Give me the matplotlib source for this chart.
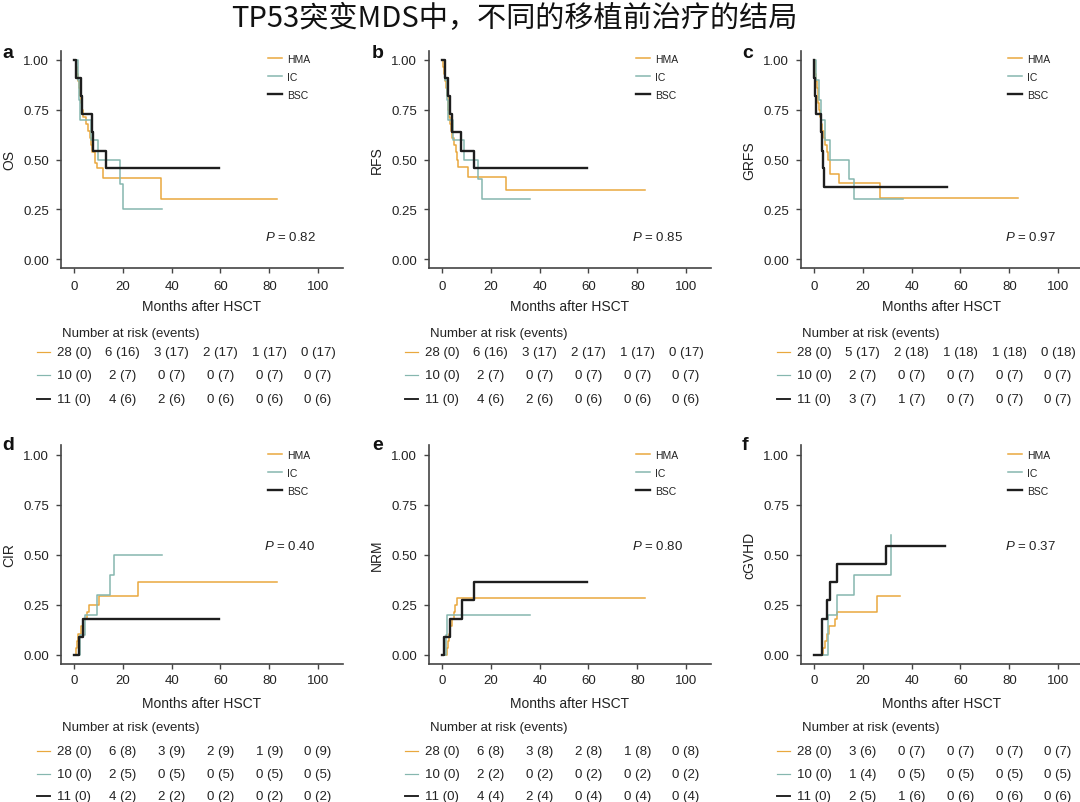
import matplotlib
matplotlib.use('Agg')
import matplotlib.pyplot as plt
from matplotlib import transforms

plt.rcParams['font.family'] = ['Liberation Sans', 'DejaVu Sans']
plt.rcParams['mathtext.fontset'] = 'custom'
plt.rcParams['mathtext.it'] = 'Liberation Sans:italic'
plt.rcParams['mathtext.rm'] = 'Liberation Sans'

groups = ['HMA', 'IC', 'BSC']
colors = ['#E9A83E', '#86B7AF', '#1E1E1E']
widths = [1.1, 1.1, 1.7]
risk_months = [0, 20, 40, 60, 80, 100]

# a: OS
os_hma_t = [0, 0.8, 1.2, 1.6, 2.0, 2.4, 2.8, 3.2, 3.8, 5.0, 5.8, 6.4, 7.0, 7.6, 8.6, 9.6, 12.0, 35.8, 83.0]
os_hma_v = [1.0, .964, .929, .893, .857, .821, .786, .750, .714, .679, .643, .607, .571, .536, .482, .455, .405, .304, .304]
os_ic_t = [0, 1.5, 2.0, 2.6, 6.8, 10.0, 19.0, 20.0, 36.0]
os_ic_v = [1.0, .9, .8, .7, .6, .5, .375, .25, .25]
os_bsc_t = [0, 0.8, 2.9, 3.1, 7.6, 7.9, 13.0, 59.5]
os_bsc_v = [1.0, .909, .818, .727, .636, .545, .455, .455]

# b: RFS
rfs_hma_t = [0, .5, 1.0, 1.3, 1.6, 2.0, 2.3, 2.6, 3.0, 3.4, 3.8, 4.3, 5.0, 5.6, 6.0, 6.4, 10.5, 26.3, 83.0]
rfs_hma_v = [1.0, .964, .929, .893, .857, .821, .786, .750, .714, .679, .643, .607, .571, .536, .500, .464, .414, .345, .345]
rfs_ic_t = [0, 1.2, 2.0, 2.6, 4.4, 9.0, 14.8, 16.6, 36.0]
rfs_ic_v = [1.0, .9, .8, .7, .6, .5, .4, .3, .3]
rfs_bsc_t = [0, 1.1, 2.5, 3.2, 4.3, 8.0, 13.3, 59.5]
rfs_bsc_v = [1.0, .909, .818, .727, .636, .545, .455, .455]

# c: GRFS
grfs_hma_t = [0, 0.3, 0.6, 0.9, 1.2, 1.5, 1.8, 2.1, 2.5, 2.9, 3.4, 4.0, 4.6, 5.2, 5.8, 6.6, 10.2, 26.9, 83.5]
grfs_hma_v = [1.0, .964, .929, .893, .857, .821, .786, .750, .714, .679, .643, .607, .571, .536, .500, .429, .381, .305, .305]
grfs_ic_t = [0, 1.0, 2.2, 3.0, 4.6, 6.6, 14.3, 16.4, 36.6]
grfs_ic_v = [1.0, .9, .8, .7, .6, .5, .4, .3, .3]
grfs_bsc_t = [0, 0.2, 0.5, 1.0, 2.9, 3.3, 3.7, 4.2, 54.5]
grfs_bsc_v = [1.0, .909, .818, .727, .636, .545, .455, .364, .364]

# d: CIR
cir_hma_t = [0, 0.8, 1.2, 1.8, 2.8, 3.6, 5.2, 6.2, 10.2, 26.3, 83.0]
cir_hma_v = [0, .036, .071, .107, .143, .179, .214, .250, .296, .367, .367]
cir_ic_t = [0, 2.5, 4.5, 9.3, 14.7, 16.5, 36.2]
cir_ic_v = [0, .1, .2, .3, .4, .5, .5]
cir_bsc_t = [0, 2.2, 3.8, 59.5]
cir_bsc_v = [0, .091, .182, .182]

# e: NRM
nrm_hma_t = [0, 2.0, 2.5, 3.0, 3.5, 4.2, 4.8, 5.4, 6.2, 83.0]
nrm_hma_v = [0, .036, .071, .107, .143, .179, .214, .250, .286, .286]
nrm_ic_t = [0, 1.5, 2.0, 36.2]
nrm_ic_v = [0, .1, .2, .2]
nrm_bsc_t = [0, 0.8, 3.1, 8.2, 13.1, 59.5]
nrm_bsc_v = [0, .091, .182, .273, .364, .364]

# f: cGVHD
gvhd_hma_t = [0, 3.8, 4.6, 5.4, 6.0, 8.6, 9.6, 26.0, 35.3]
gvhd_hma_v = [0, .036, .071, .107, .143, .179, .214, .296, .296]
gvhd_ic_t = [0, 5.9, 9.3, 16.6, 31.5]
gvhd_ic_v = [0, .2, .3, .4, .6]
gvhd_bsc_t = [0, 3.4, 5.5, 6.6, 9.3, 29.4, 53.8]
gvhd_bsc_v = [0, .182, .273, .364, .455, .545, .545]

risk_os = [['28 (0)', '6 (16)', '3 (17)', '2 (17)', '1 (17)', '0 (17)'],
           ['10 (0)', '2 (7)', '0 (7)', '0 (7)', '0 (7)', '0 (7)'],
           ['11 (0)', '4 (6)', '2 (6)', '0 (6)', '0 (6)', '0 (6)']]
risk_rfs = risk_os
risk_grfs = [['28 (0)', '5 (17)', '2 (18)', '1 (18)', '1 (18)', '0 (18)'],
             ['10 (0)', '2 (7)', '0 (7)', '0 (7)', '0 (7)', '0 (7)'],
             ['11 (0)', '3 (7)', '1 (7)', '0 (7)', '0 (7)', '0 (7)']]
risk_cir = [['28 (0)', '6 (8)', '3 (9)', '2 (9)', '1 (9)', '0 (9)'],
            ['10 (0)', '2 (5)', '0 (5)', '0 (5)', '0 (5)', '0 (5)'],
            ['11 (0)', '4 (2)', '2 (2)', '0 (2)', '0 (2)', '0 (2)']]
risk_nrm = [['28 (0)', '6 (8)', '3 (8)', '2 (8)', '1 (8)', '0 (8)'],
            ['10 (0)', '2 (2)', '0 (2)', '0 (2)', '0 (2)', '0 (2)'],
            ['11 (0)', '4 (4)', '2 (4)', '0 (4)', '0 (4)', '0 (4)']]
risk_gvhd = [['28 (0)', '3 (6)', '0 (7)', '0 (7)', '0 (7)', '0 (7)'],
             ['10 (0)', '1 (4)', '0 (5)', '0 (5)', '0 (5)', '0 (5)'],
             ['11 (0)', '2 (5)', '1 (6)', '0 (6)', '0 (6)', '0 (6)']]

panels = [
    ('a', 'OS', '0.82', [(os_hma_t, os_hma_v), (os_ic_t, os_ic_v), (os_bsc_t, os_bsc_v)], risk_os),
    ('b', 'RFS', '0.85', [(rfs_hma_t, rfs_hma_v), (rfs_ic_t, rfs_ic_v), (rfs_bsc_t, rfs_bsc_v)], risk_rfs),
    ('c', 'GRFS', '0.97', [(grfs_hma_t, grfs_hma_v), (grfs_ic_t, grfs_ic_v), (grfs_bsc_t, grfs_bsc_v)], risk_grfs),
    ('d', 'CIR', '0.40', [(cir_hma_t, cir_hma_v), (cir_ic_t, cir_ic_v), (cir_bsc_t, cir_bsc_v)], risk_cir),
    ('e', 'NRM', '0.80', [(nrm_hma_t, nrm_hma_v), (nrm_ic_t, nrm_ic_v), (nrm_bsc_t, nrm_bsc_v)], risk_nrm),
    ('f', 'cGVHD', '0.37', [(gvhd_hma_t, gvhd_hma_v), (gvhd_ic_t, gvhd_ic_v), (gvhd_bsc_t, gvhd_bsc_v)], risk_gvhd),
]

W, H = 1080, 803
fig = plt.figure(figsize=(W / 100, H / 100), dpi=100)
fig.patch.set_facecolor('white')

col_left = [61, 429, 801]
row_box = [(52, 269), (446, 665)]
row_ylim = [(-0.045, 1.045), (-0.045, 1.05)]
row_xlabel_top = [300, 697]
row_ptext_y = [0.115, 0.545]
row_table_y = [[334, 353, 376, 400], [728, 752, 775, 797]]
row_legend_top = [55, 451]
label_x = [2, 372, 742]
label_base = [58, 450]
ax_w = 282
txt = '#222222'
spine_c = '#444444'

for i, (letter, ylab, pval, curves, risk) in enumerate(panels):
    r, c = divmod(i, 3)
    top, bottom = row_box[r]
    left = col_left[c]
    ax = fig.add_axes([left / W, 1 - bottom / H, ax_w / W, (bottom - top) / H])
    for g, (t, v) in enumerate(curves):
        ax.step(t, v, where='post', color=colors[g], lw=widths[g], label=groups[g])
    ax.set_xlim(-5.3, 110.2)
    ax.set_ylim(*row_ylim[r])
    ax.set_xticks(risk_months)
    ax.set_yticks([0, 0.25, 0.5, 0.75, 1.0])
    ax.set_yticklabels(['0.00', '0.25', '0.50', '0.75', '1.00'])
    for s in ['top', 'right']:
        ax.spines[s].set_visible(False)
    for s in ['left', 'bottom']:
        ax.spines[s].set_color(spine_c)
        ax.spines[s].set_linewidth(1.2)
    ax.tick_params(direction='out', length=3.5, width=1.0, color=spine_c,
                   labelsize=9.5, labelcolor=txt, pad=5)
    ax.tick_params(axis='x', pad=4 if r else 5)
    ax.set_ylabel(ylab, fontsize=10, color=txt)
    ax.yaxis.set_label_coords(-0.16, 0.5)
    ax.set_xlabel('Months after HSCT', fontsize=10, color=txt)
    ax.xaxis.set_label_coords(0.5, (bottom - row_xlabel_top[r]) / (bottom - top))
    ax.text(99, row_ptext_y[r], r'$P$ = ' + pval, ha='right', va='center',
            fontsize=9.5, color=txt)
    leg_y = (bottom - row_legend_top[r]) / (bottom - top)
    ax.legend(loc='upper left', bbox_to_anchor=(0.734, leg_y), frameon=False, fontsize=7.5,
              handlelength=1.35, handletextpad=0.5, labelspacing=0.75, borderpad=0,
              borderaxespad=0, labelcolor=txt)

    fig.text(label_x[c] / W, 1 - label_base[r] / H, letter, fontsize=14, fontweight='bold',
             va='baseline', ha='left', color='#111111')

    # number at risk table
    tr = transforms.blended_transform_factory(ax.transData, fig.transFigure)
    tra = transforms.blended_transform_factory(ax.transAxes, fig.transFigure)
    ys = row_table_y[r]
    ax.text(0.003, 1 - ys[0] / H, 'Number at risk (events)', transform=tra, ha='left',
            va='center', fontsize=9.5, color=txt, clip_on=False)
    for g in range(3):
        yy = 1 - ys[g + 1] / H
        ax.plot([-15, -9.8], [yy, yy], transform=tr, color=colors[g], lw=widths[g] * 0.8,
                clip_on=False)
        for m, lab in zip(risk_months, risk[g]):
            ax.text(m, yy, lab, transform=tr, ha='center', va='center', fontsize=9.5,
                    color=txt, clip_on=False)

fig.text(514 / W, 1 - 19 / H, 'TP53突变MDS中，不同的移植前治疗的结局', ha='center', va='center',
         fontsize=21, color='#111111', family=['Noto Sans CJK SC', 'DejaVu Sans'])

fig.savefig('out.png', dpi=100, facecolor='white')
